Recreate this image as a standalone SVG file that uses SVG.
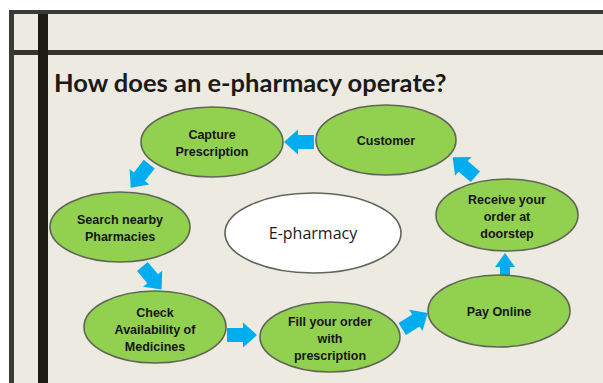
<svg xmlns="http://www.w3.org/2000/svg" width="603" height="383" viewBox="0 0 603 383">
<style>
.node{fill:#92D050;stroke:#5f6658;stroke-width:1.6}
.lbl{font-family:"Liberation Sans",Arial,sans-serif;font-weight:bold;font-size:12.5px;fill:#151515;text-anchor:middle}
.arr{fill:#00AEEF}
</style>
<defs>
<path id="arw" d="M-15,-7 H1 V-12.5 L15,0 L1,12.5 V7 H-15 Z"/>
</defs>
<rect x="0" y="0" width="603" height="383" fill="#ffffff"/>
<rect x="9" y="10" width="594" height="373" fill="#3a3a38"/>
<rect x="14" y="14" width="589" height="369" fill="#EDEAE2"/>
<rect x="14" y="50" width="589" height="5" fill="#34342f"/>
<rect x="38" y="14" width="10" height="369" fill="#1c1c15"/>
<text x="54" y="92" font-family="Lato,'Open Sans',sans-serif" font-weight="bold" font-size="25.5" fill="#1a1a1a">How does an e-pharmacy operate?</text>
<g id="connectors">
<use href="#arw" class="arr" transform="translate(299,142) rotate(180)"/>
<use href="#arw" class="arr" transform="translate(140,176) rotate(128)"/>
<use href="#arw" class="arr" transform="translate(152,278) rotate(50)"/>
<use href="#arw" class="arr" transform="translate(242,335)"/>
<use href="#arw" class="arr" transform="translate(415,321) rotate(-32)"/>
<path class="arr" d="M500,276 V267 H495 L505,253 L515,267 H510 V276 Z"/>
<use href="#arw" class="arr" transform="translate(464,167) rotate(-139)"/>
</g>
<g id="capture"><ellipse class="node" cx="212" cy="142" rx="71" ry="35"/><text class="lbl" x="212" y="139">Capture</text><text class="lbl" x="212" y="156">Prescription</text></g>
<g id="customer"><ellipse class="node" cx="386" cy="140" rx="70" ry="35"/><text class="lbl" x="386" y="145">Customer</text></g>
<g id="search"><ellipse class="node" cx="120" cy="227" rx="70" ry="35"/><text class="lbl" x="120" y="224">Search nearby</text><text class="lbl" x="120" y="241">Pharmacies</text></g>
<g id="epharmacy"><ellipse cx="313" cy="233" rx="88" ry="40" fill="#ffffff" stroke="#5f6658" stroke-width="1.6"/><text x="313" y="239" font-family="'Open Sans','Liberation Sans',sans-serif" font-size="16" fill="#1a1a1a" text-anchor="middle">E-pharmacy</text></g>
<g id="receive"><ellipse class="node" cx="507" cy="215" rx="71" ry="36"/><text class="lbl" x="507" y="204">Receive your</text><text class="lbl" x="507" y="221">order at</text><text class="lbl" x="507" y="238">doorstep</text></g>
<g id="check"><ellipse class="node" cx="155" cy="327" rx="71" ry="36"/><text class="lbl" x="155" y="317">Check</text><text class="lbl" x="155" y="334">Availability of</text><text class="lbl" x="155" y="351">Medicines</text></g>
<g id="fill"><ellipse class="node" cx="330" cy="337" rx="70" ry="35"/><text class="lbl" x="330" y="326">Fill your order</text><text class="lbl" x="330" y="343">with</text><text class="lbl" x="330" y="360">prescription</text></g>
<g id="pay"><ellipse class="node" cx="499" cy="311" rx="71" ry="36"/><text class="lbl" x="499" y="316">Pay Online</text></g>
</svg>
